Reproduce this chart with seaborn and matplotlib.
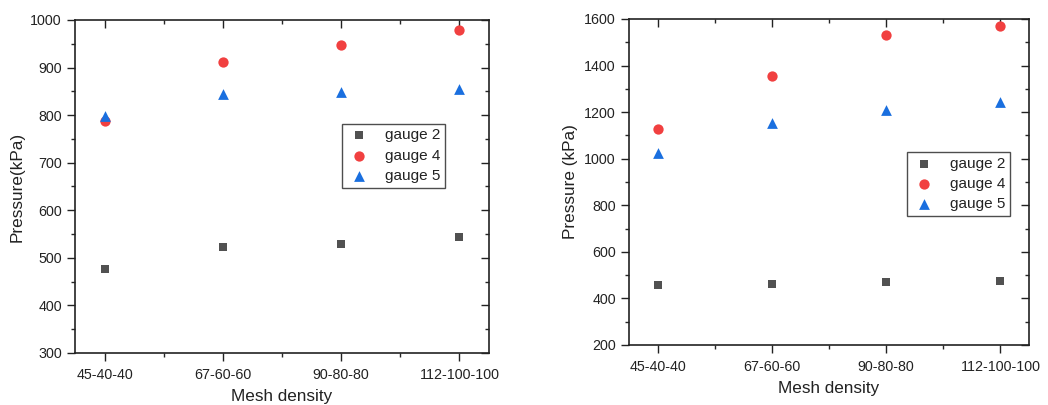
import numpy as np
import pandas as pd
import matplotlib
matplotlib.use("Agg")
import matplotlib.pyplot as plt
import seaborn as sns
from matplotlib.ticker import MultipleLocator, FixedLocator

sns.set_style("ticks")
plt.rcParams['font.family'] = ['Liberation Sans', 'DejaVu Sans']

categories = ["45-40-40", "67-60-60", "90-80-80", "112-100-100"]
series_names = ["gauge 2", "gauge 4", "gauge 5"]

left_gauge2 = [477, 523, 530, 544]
left_gauge4 = [788, 911, 947, 978]
left_gauge5 = [798, 845, 849, 856]

right_gauge2 = [458, 464, 471, 474]
right_gauge4 = [1129, 1357, 1530, 1570]
right_gauge5 = [1023, 1152, 1208, 1242]

colors = {"gauge 2": "#515151", "gauge 4": "#F14040", "gauge 5": "#1A6FDF"}
markers = {"gauge 2": "s", "gauge 4": "o", "gauge 5": "^"}
sizes = {"gauge 2": 36, "gauge 4": 55, "gauge 5": 60}


def make_df(g2, g4, g5):
    rows = []
    for name, vals in zip(series_names, [g2, g4, g5]):
        for i, v in enumerate(vals):
            rows.append({"pos": i, "Mesh": categories[i], "Pressure": v, "series": name})
    return pd.DataFrame(rows)


fig = plt.figure(figsize=(10.48, 4.05), dpi=100)
ax1 = fig.add_axes([75 / 1048, 1 - 353 / 405, 414 / 1048, 333 / 405])
ax2 = fig.add_axes([629 / 1048, 1 - 345 / 405, 400 / 1048, 326 / 405])


def draw(ax, df, ylim, ymajor, ylabel, legend_bbox):
    for name in series_names:
        sub = df[df["series"] == name]
        sns.scatterplot(data=sub, x="pos", y="Pressure", ax=ax, color=colors[name],
                        marker=markers[name], s=sizes[name], linewidth=0, label=name,
                        legend=True)
    ax.set_xlim(-0.25, 3.25)
    ax.set_ylim(*ylim)
    ax.xaxis.set_major_locator(FixedLocator(range(len(categories))))
    ax.set_xticklabels(categories)
    ax.xaxis.set_minor_locator(FixedLocator([0.5, 1.5, 2.5]))
    ax.yaxis.set_major_locator(MultipleLocator(ymajor))
    ax.yaxis.set_minor_locator(MultipleLocator(ymajor / 2))
    ax.tick_params(axis="both", which="major", labelsize=10.3, direction="out", length=6,
                   width=1, colors="#222222", labelcolor="#222222")
    ax.tick_params(axis="x", which="major", pad=5)
    ax.tick_params(axis="both", which="minor", direction="out", length=3, width=1)
    ax.tick_params(top=True, right=True, which="both")
    for t in ax.xaxis.get_major_ticks() + ax.xaxis.get_minor_ticks():
        t.tick2line.set_marker(3)
    for t in ax.yaxis.get_major_ticks() + ax.yaxis.get_minor_ticks():
        t.tick2line.set_marker(0)
    for sp in ax.spines.values():
        sp.set_visible(True)
        sp.set_linewidth(1.2)
        sp.set_color("#222222")
    ax.set_xlabel("Mesh density", fontsize=12.3, color="#222222", labelpad=5)
    ax.set_ylabel(ylabel, fontsize=12.3, color="#222222", labelpad=4)
    leg = ax.legend(loc="upper left", bbox_to_anchor=legend_bbox, frameon=True,
                    fancybox=False, edgecolor="#222222", fontsize=11,
                    handletextpad=0.9, borderpad=0.3, labelspacing=0.42,
                    handlelength=1.6, borderaxespad=0)
    leg.get_frame().set_linewidth(1.0)
    for t in leg.get_texts():
        t.set_color("#222222")


draw(ax1, make_df(left_gauge2, left_gauge4, left_gauge5), (300, 1000), 100,
     "Pressure(kPa)", (0.645, 0.688))
draw(ax2, make_df(right_gauge2, right_gauge4, right_gauge5), (200, 1600), 200,
     "Pressure (kPa)", (0.695, 0.592))

fig.savefig("out.png", dpi=100)
